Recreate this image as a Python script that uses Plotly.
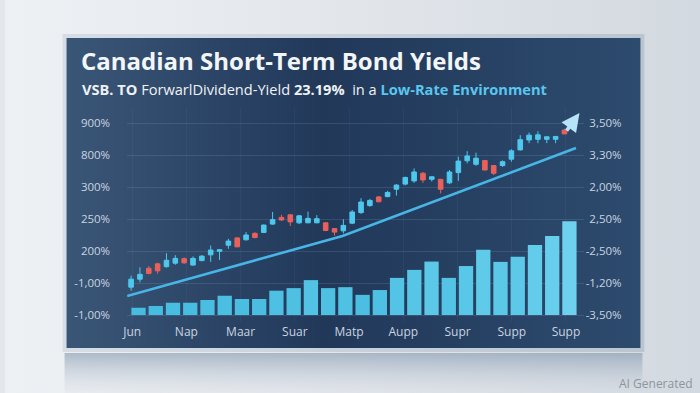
import numpy as np
import plotly.graph_objects as go

# ---------------- data ----------------
x_labels = ["Jun", "Nap", "Maar", "Suar", "Matp", "Aupp", "Supr", "Supp", "Supp"]
left_ticks = ["-1,00%", "-1,00%", "200%", "250%", "300%", "800%", "900%"]
right_ticks = ["-3,50%", "-1,20%", "-2,50%", "2,50%", "2,00%", "3,30%", "3,50%"]

bar_values = [0.23, 0.28, 0.38, 0.38, 0.47, 0.60, 0.50, 0.50, 0.76, 0.84, 1.09, 0.84, 0.87,
              0.63, 0.78, 1.16, 1.41, 1.67, 1.16, 1.53, 2.04, 1.66, 1.82, 2.19, 2.47, 2.93]

candle_open = [0.87, 1.12, 1.46, 1.60, 1.51, 1.62, 1.76, 1.56, 1.70, 1.88, 1.99, 2.18, 2.41, 2.35, 2.55,
               2.58, 2.84, 3.05, 3.13, 2.88, 2.88, 2.88, 2.88, 2.70, 2.63, 2.87, 3.20, 3.42, 3.69, 3.70,
               3.93, 4.09, 4.19, 4.43, 4.24, 4.24, 4.13, 4.45, 4.82, 4.71, 4.83, 4.67, 4.67, 4.87, 5.16,
               5.47, 5.49, 5.49, 5.49, 5.78]
candle_close = [1.12, 1.27, 1.30, 1.38, 1.71, 1.77, 1.63, 1.77, 1.84, 2.03, 2.04, 2.31, 2.13, 2.50, 2.42,
                2.81, 2.98, 2.97, 2.91, 3.10, 3.02, 3.01, 2.64, 2.59, 2.80, 3.22, 3.53, 3.58, 3.54, 3.83,
                4.06, 4.30, 4.47, 4.22, 4.32, 3.93, 4.47, 4.81, 4.97, 4.90, 4.53, 4.43, 4.79, 5.13, 5.48,
                5.62, 5.63, 5.57, 5.58, 5.66]
candle_high = [1.23, 1.49, 1.53, 1.63, 1.93, 1.87, 1.80, 1.83, 1.87, 2.17, 2.06, 2.38, 2.43, 2.59, 2.59,
               2.83, 3.22, 3.13, 3.15, 3.13, 3.23, 3.12, 2.90, 2.72, 2.99, 3.28, 3.65, 3.63, 3.72, 3.88,
               4.09, 4.32, 4.58, 4.47, 4.33, 4.25, 4.53, 4.95, 5.12, 5.07, 4.84, 4.68, 4.83, 5.18, 5.62,
               5.70, 5.74, 5.58, 5.59, 5.82]
candle_low = [0.76, 1.02, 1.27, 1.29, 1.48, 1.57, 1.60, 1.54, 1.68, 1.66, 1.72, 2.07, 2.12, 2.33, 2.40,
              2.56, 2.82, 2.94, 2.78, 2.84, 2.87, 2.87, 2.62, 2.48, 2.55, 2.84, 3.16, 3.38, 3.52, 3.68,
              3.73, 4.05, 4.13, 4.13, 4.17, 3.80, 4.09, 4.19, 4.74, 4.66, 4.52, 4.37, 4.63, 4.79, 5.14,
              5.37, 5.37, 5.37, 5.37, 5.65]

trend_x = [-0.45, 23.9, 50.3]
trend_y = [0.59, 2.47, 5.22]

# ---------------- layout helpers ----------------
W, H = 700, 393
FONT = "Open Sans"
bar_x = np.arange(len(bar_values))
candle_x = np.arange(len(candle_open))
xtick_pos = np.linspace(-0.37, 24.8, len(x_labels))

fig = go.Figure()


def rect(x0, y0, x1, y1, colors, kind="horizontal", start=None, stop=None):
    fg = dict(type=kind, colorscale=colors)
    if start is not None:
        fg["start"] = start
        fg["stop"] = stop
    fig.add_trace(go.Scatter(
        x=[x0, x1, x1, x0, x0], y=[y0, y0, y1, y1, y0], mode="lines",
        line=dict(width=0), fill="toself", fillgradient=fg,
        xaxis="x", yaxis="y", hoverinfo="skip", showlegend=False))


# page background
rect(0, 0, W, H, [[0, "#eef1f4"], [0.5, "#e2e6eb"], [1, "#d3d9e0"]])
# reflection under panel
rect(60, 353, 642, H, [[0, "rgba(120,142,168,0.55)"], [1, "rgba(215,221,228,0.2)"]],
     kind="vertical", start=353, stop=H)
# frame
rect(58, 34, 644, 352, [[0, "#d6dde5"], [1, "#bac5d0"]])
# panel
rect(62, 38, 640, 348, [[0, "#3a5677"], [0.45, "#213859"], [1, "#2d4b6e"]])

# bars
fig.add_trace(go.Bar(
    x=bar_x, y=bar_values, width=0.83, xaxis="x2", yaxis="y2",
    marker=dict(color=bar_values, colorscale=[[0, "#45bce0"], [1, "#6ed2ee"]], line=dict(width=0)),
    hoverinfo="skip", showlegend=False))

# candles
fig.add_trace(go.Candlestick(
    x=candle_x, open=candle_open, high=candle_high, low=candle_low, close=candle_close,
    xaxis="x3", yaxis="y2", whiskerwidth=0,
    increasing=dict(line=dict(color="#4ec8ec", width=1), fillcolor="#4ec8ec"),
    decreasing=dict(line=dict(color="#e8615b", width=1), fillcolor="#e8615b"),
    hoverinfo="skip", showlegend=False))

# trend line
fig.add_trace(go.Scatter(
    x=trend_x, y=trend_y, mode="lines", xaxis="x3", yaxis="y2",
    line=dict(color="#47b6e6", width=2.6), hoverinfo="skip", showlegend=False))

# right-axis carrier (invisible)
fig.add_trace(go.Scatter(x=[0], y=[0], mode="markers", marker=dict(opacity=0),
                         xaxis="x2", yaxis="y3", hoverinfo="skip", showlegend=False))

tick_font = dict(family=FONT, size=11.5, color="#c9d4e0")
ydom = [1 - 322 / H, 1 - 108 / H]
yrng = [-0.21875, 6.46875]

fig.update_layout(
    width=W, height=H, margin=dict(l=0, r=0, t=0, b=0),
    paper_bgcolor="#e3e7ec", plot_bgcolor="rgba(0,0,0,0)",
    xaxis=dict(domain=[0, 1], range=[0, W], visible=False, fixedrange=True),
    yaxis=dict(domain=[0, 1], range=[H, 0], visible=False, fixedrange=True),
    xaxis2=dict(domain=[123 / W, 583 / W], range=[-0.662, 25.835], anchor="y2",
                tickvals=xtick_pos, ticktext=x_labels, tickfont=dict(family=FONT, size=12, color="#c9d4e0"),
                showgrid=True, gridcolor="rgba(160,190,220,0.06)", zeroline=False, showline=False,
                ticks="", ticklabelstandoff=1),
    xaxis3=dict(domain=[123 / W, 583 / W], range=[-0.449, 51.19], overlaying="x2", anchor="y2",
                visible=False, rangeslider=dict(visible=False)),
    yaxis2=dict(domain=ydom, range=yrng, anchor="x2", tickvals=list(range(7)), ticktext=left_ticks,
                tickfont=tick_font, showgrid=True, gridcolor="rgba(160,190,220,0.16)", gridwidth=1,
                zeroline=False, showline=False, ticks="", ticklabelstandoff=16),
    yaxis3=dict(range=yrng, overlaying="y2", anchor="free", side="left", position=621 / W,
                tickvals=list(range(7)), ticktext=right_ticks, tickfont=tick_font,
                showgrid=False, zeroline=False, showline=False, ticks=""),
    boxgap=0.26,
    showlegend=False,
)

# title & subtitle
fig.add_annotation(x=75, y=60, xref="x", yref="y", xanchor="left", yanchor="middle", showarrow=False,
                   text="<b>Canadian Short-Term Bond Yields</b>",
                   font=dict(family=FONT, size=24, color="#f3f6f9"))
fig.add_annotation(x=76, y=89, xref="x", yref="y", xanchor="left", yanchor="middle", showarrow=False,
                   text=("<b>VSB. TO</b> ForwarlDividend-Yield <b>23.19%</b>  in a "
                         "<b><span style='color:#5ac6ee'>Low-Rate Environment</span></b>"),
                   font=dict(family=FONT, size=14.6, color="#eef2f6"))
# arrow after last candle
fig.add_annotation(x=50.7, y=6.31, xref="x3", yref="y2", ax=-14, ay=19, showarrow=True, text="",
                   arrowhead=2, arrowsize=1.0, arrowwidth=3.6, arrowcolor="#b6e5f8")
# watermark
fig.add_annotation(x=695, y=383, xref="x", yref="y", xanchor="right", yanchor="middle", showarrow=False,
                   text="AI Generated", font=dict(family=FONT, size=12, color="#8d959d"))

fig.write_html("out.html")
